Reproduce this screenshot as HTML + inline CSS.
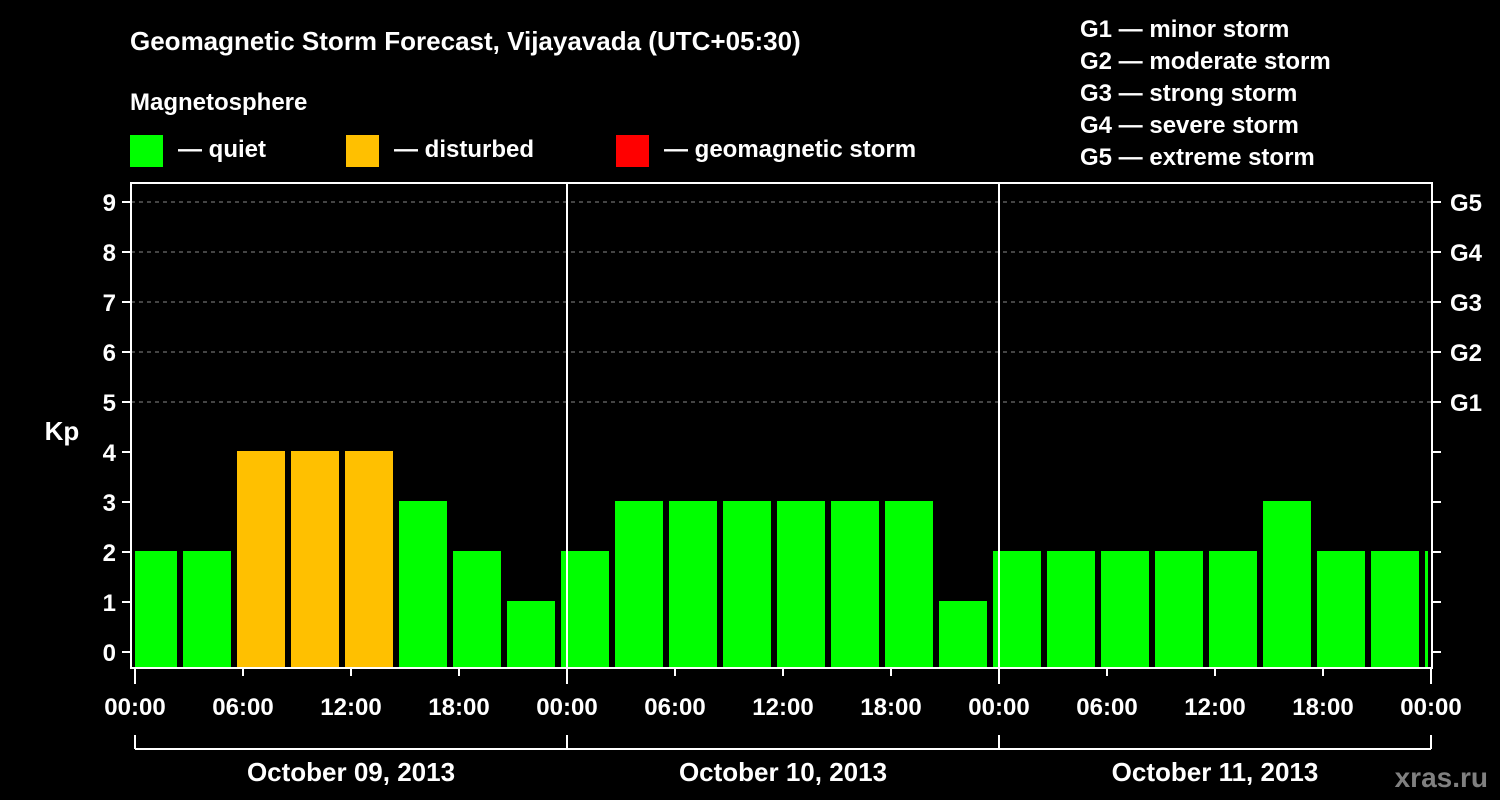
<!DOCTYPE html>
<html><head><meta charset="utf-8"><style>
html,body{margin:0;padding:0;background:#000;}
svg{display:block;font-family:"Liberation Sans",Arial,sans-serif;font-weight:bold;}
</style></head><body>
<svg id="c" width="1500" height="800" viewBox="0 0 1500 800">
<rect width="1500" height="800" fill="#000"/>
<text x="130" y="50" fill="#fff" font-size="26">Geomagnetic Storm Forecast, Vijayavada (UTC+05:30)</text>
<text x="130" y="110" fill="#fff" font-size="24">Magnetosphere</text>
<g><rect x="130" y="135" width="33" height="32" fill="#00ff00"/><text x="178" y="157" fill="#fff" font-size="24">— quiet</text></g>
<g><rect x="346" y="135" width="33" height="32" fill="#ffc000"/><text x="394" y="157" fill="#fff" font-size="24">— disturbed</text></g>
<g><rect x="616" y="135" width="33" height="32" fill="#ff0000"/><text x="664" y="157" fill="#fff" font-size="24">— geomagnetic storm</text></g>
<g fill="#fff" font-size="24">
<text x="1080" y="37">G1 — minor storm</text>
<text x="1080" y="69">G2 — moderate storm</text>
<text x="1080" y="101">G3 — strong storm</text>
<text x="1080" y="133">G4 — severe storm</text>
<text x="1080" y="165">G5 — extreme storm</text>
</g>
<text x="62" y="440" fill="#fff" font-size="26" text-anchor="middle">Kp</text>
<text x="1488" y="787" fill="#808080" font-size="28" text-anchor="end">xras.ru</text>
<g id="g"></g>
</svg>
<script>
const kpValues=[2,2,4,4,4,3,2,1,2,3,3,3,3,3,3,1,2,2,2,2,2,3,2,2,2];
const yTicks=[0,1,2,3,4,5,6,7,8,9];
const gLabels=["G1","G2","G3","G4","G5"];
const xLabels=["00:00","06:00","12:00","18:00","00:00","06:00","12:00","18:00","00:00","06:00","12:00","18:00","00:00"];
const dayLabels=["October 09, 2013","October 10, 2013","October 11, 2013"];
const NS="http://www.w3.org/2000/svg";
const g=document.getElementById('g');
function el(t,a,txt){const e=document.createElementNS(NS,t);for(const k in a)e.setAttribute(k,a[k]);if(txt!==undefined)e.textContent=txt;g.appendChild(e);return e;}
const L=131,R=1432,T=183,B=668,X0=135,DAY=432;
const y=v=>652-v*50;
const xh=h=>X0+h*DAY/24;
// grid
yTicks.forEach(v=>{
 if(v>=5){const e=el('line',{x1:L,x2:R,y1:y(v),y2:y(v),stroke:'#888','stroke-dasharray':'4,4','stroke-width':1});
 
 }
 const t=el('text',{x:116,y:y(v)+9,fill:'#fff','font-size':24,'text-anchor':'end'},String(v));
 
 
 el('line',{x1:122,x2:L,y1:y(v),y2:y(v),stroke:'#fff','stroke-width':2});
 el('line',{x1:R,x2:1441,y1:y(v),y2:y(v),stroke:'#fff','stroke-width':2});
});
gLabels.forEach((s,i)=>{
 const t=el('text',{x:1450,y:y(5+i)+9,fill:'#fff','font-size':24},s);
 
 
});
// bars
kpValues.forEach((v,i)=>{
 let x1=xh(i*3-0.5)+3,x2=x1+48;
 x1=Math.max(x1,X0);x2=Math.min(x2,1428);
 const c=v>=5?'#ff0000':(v>=4?'#ffc000':'#00ff00');
 const b=el('rect',{x:x1,y:y(v)-1,width:x2-x1,height:B-y(v)+1,fill:c});
 
 
});
// day separators
[1,2].forEach(d=>{el('line',{x1:xh(d*24),x2:xh(d*24),y1:T,y2:B,stroke:'#fff','stroke-width':2});});
// frame
const f=el('rect',{x:L,y:T,width:R-L,height:B-T,fill:'none',stroke:'#fff','stroke-width':2});


// x ticks
xLabels.forEach((s,i)=>{
 const x=xh(i*6);
 el('line',{x1:x,x2:x,y1:B,y2:i%4===0?684:676,stroke:'#fff','stroke-width':2});
 const t=el('text',{x:x,y:715,fill:'#fff','font-size':24,'text-anchor':'middle'},s);
 
 
});
// day brackets
el('line',{x1:xh(0),x2:xh(72),y1:749,y2:749,stroke:'#fff','stroke-width':2});
[0,1,2,3].forEach(d=>el('line',{x1:xh(d*24),x2:xh(d*24),y1:735,y2:749,stroke:'#fff','stroke-width':2}));
dayLabels.forEach((s,i)=>{
 const t=el('text',{x:xh(i*24+12),y:781,fill:'#fff','font-size':26,'text-anchor':'middle'},s);
 
 
});
</script>
</body></html>
